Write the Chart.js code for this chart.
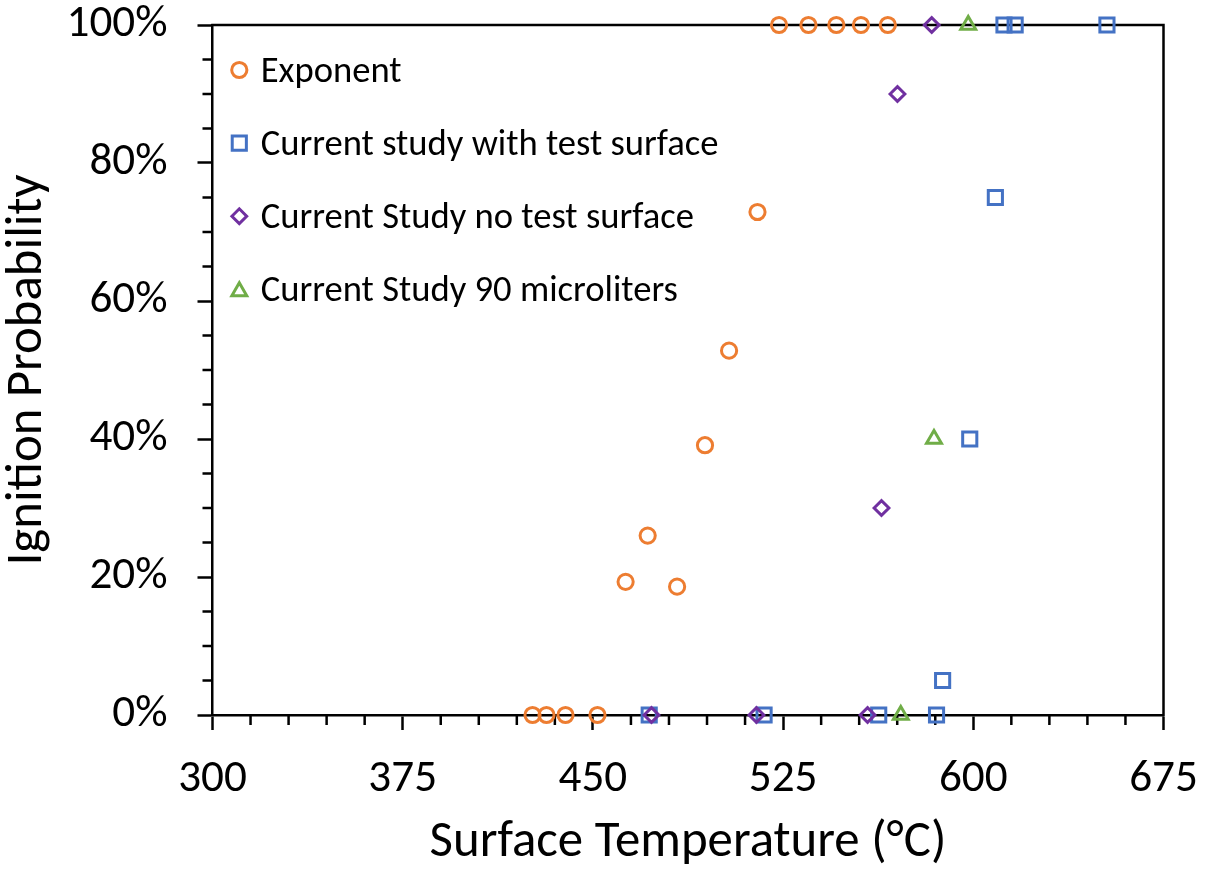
<!DOCTYPE html>
<html>
<head>
<meta charset="utf-8">
<title>Ignition Probability</title>
<script src="https://cdn.jsdelivr.net/npm/chart.js@4/dist/chart.umd.min.js"></script>
<style>
  html, body { margin: 0; padding: 0; background: #fff; }
  #chart { display: block; }
</style>
</head>
<body>
<canvas id="chart" width="1209" height="869"></canvas>
<script>
// Data (temperature in °C, probability in %)
const exponentTemp = [426.2, 431.7, 439.2, 451.8, 462.9, 471.6, 483.2, 494.2, 503.7, 514.9, 523.4, 535.0, 546.0, 555.7, 566.3];
const exponentProb = [0, 0, 0, 0, 19.3, 26.0, 18.6, 39.1, 52.8, 72.9, 100, 100, 100, 100, 100];

const withSurfaceTemp = [472.2, 517.5, 562.7, 585.5, 587.9, 598.6, 608.7, 612.1, 616.5, 652.7];
const withSurfaceProb = [0, 0, 0, 0, 5, 40, 75, 100, 100, 100];

const noSurfaceTemp = [473.1, 514.5, 558.3, 563.8, 570.1, 583.6];
const noSurfaceProb = [0, 0, 0, 30, 90, 100];

const microTemp = [571.4, 584.5, 598.0];
const microProb = [0, 40, 100];

const seriesNames = [
    'Exponent',
    'Current study with test surface',
    'Current Study no test surface',
    'Current Study 90 microliters'
];

const xMajorTicks = [300, 375, 450, 525, 600, 675];
const yMajorTicks = [0, 20, 40, 60, 80, 100];

const FAMILY = 'Carlito, Calibri, Lato, sans-serif';

// pick a font size so a text spans the width it has in the reference
function fitSize(text, width) {
    const c = document.createElement('canvas').getContext('2d');
    c.font = '100px ' + FAMILY;
    return 100 * width / c.measureText(text).width;
}

const tickSize = fitSize('100%', 101);
const legendSize = fitSize(seriesNames[1], 458);
const xTitleSize = fitSize('Surface Temperature (°C)', 517);
const yTitleSize = fitSize('Ignition Probability', 391);

function toPoints(xs, ys) {
    return xs.map((x, i) => ({ x: x, y: ys[i] }));
}

const markers = [
    { color: '#ED7D31', style: 'circle', radius: 7.6, width: 3 },
    { color: '#4472C4', style: 'rect', radius: 10, width: 3 },
    { color: '#7030A0', style: 'rectRot', radius: 7.4, width: 3 },
    { color: '#70AD47', style: 'triangle', radius: 8.6, width: 3 }
];
const seriesData = [
    toPoints(exponentTemp, exponentProb),
    toPoints(withSurfaceTemp, withSurfaceProb),
    toPoints(noSurfaceTemp, noSurfaceProb),
    toPoints(microTemp, microProb)
];

// Top/right frame plus the short minor tick marks
const framePlugin = {
    id: 'frame',
    beforeDatasetsDraw(chart) {
        const { ctx, chartArea: a, scales } = chart;
        ctx.save();
        ctx.strokeStyle = '#000';
        ctx.lineWidth = 2.5;
        ctx.beginPath();
        ctx.moveTo(a.left - 1.25, a.top);
        ctx.lineTo(a.right, a.top);
        ctx.lineTo(a.right, a.bottom + 1.25);
        scales.x.ticks.forEach(t => {
            if (!xMajorTicks.includes(t.value)) {
                const px = scales.x.getPixelForValue(t.value);
                ctx.moveTo(px, a.bottom);
                ctx.lineTo(px, a.bottom + 10);
            }
        });
        scales.y.ticks.forEach(t => {
            if (!yMajorTicks.includes(t.value)) {
                const py = scales.y.getPixelForValue(t.value);
                ctx.moveTo(a.left, py);
                ctx.lineTo(a.left - 10, py);
            }
        });
        ctx.stroke();
        ctx.restore();
    }
};

// Legend sits inside the plot, top-left, like the original
const legendPlugin = {
    id: 'insideLegend',
    afterDatasetsDraw(chart) {
        const { ctx, chartArea: a } = chart;
        ctx.save();
        ctx.font = legendSize + 'px ' + FAMILY;
        const capH = ctx.measureText('E').actualBoundingBoxAscent;
        chart.data.datasets.forEach((ds, i) => {
            const m = markers[i];
            const rowY = a.top + 45 + i * 73.1;
            const my = m.style === 'triangle' ? rowY + m.radius / 4 : rowY;
            ctx.lineWidth = m.width;
            ctx.strokeStyle = m.color;
            ctx.fillStyle = 'rgba(0,0,0,0)';
            Chart.helpers.drawPoint(ctx, { pointStyle: m.style, radius: m.radius, borderWidth: m.width, rotation: 0 }, a.left + 26.8, my);
            ctx.fillStyle = '#000';
            ctx.textBaseline = 'alphabetic';
            ctx.fillText(ds.label, a.left + 48.2, rowY + capH / 2);
        });
        ctx.restore();
    }
};

const chart = new Chart(document.getElementById('chart'), {
    type: 'scatter',
    data: {
        datasets: seriesData.map((pts, i) => ({
            label: seriesNames[i],
            data: pts,
            order: 4 - i,
            pointStyle: markers[i].style,
            pointRadius: markers[i].radius,
            pointHoverRadius: markers[i].radius,
            pointBorderWidth: markers[i].width,
            pointBorderColor: markers[i].color,
            pointBackgroundColor: 'rgba(0,0,0,0)',
            showLine: false,
            clip: false
        }))
    },
    options: {
        responsive: false,
        animation: false,
        devicePixelRatio: 1,
        layout: { padding: { top: 25, right: 45.5, bottom: 0, left: 0 } },
        plugins: {
            legend: { display: false },
            tooltip: { enabled: false }
        },
        scales: {
            x: {
                type: 'linear',
                min: 300,
                max: 675,
                afterFit: s => { s.height = 154; s.paddingLeft = 0; s.paddingRight = 0; },
                ticks: {
                    stepSize: 15,
                    autoSkip: false,
                    maxRotation: 0,
                    minRotation: 0,
                    padding: 27,
                    color: '#000',
                    font: { family: FAMILY, size: tickSize, lineHeight: 1 },
                    callback: v => xMajorTicks.includes(v) ? String(v) : ''
                },
                grid: {
                    drawOnChartArea: false,
                    drawTicks: true,
                    tickLength: 15,
                    tickWidth: 2.5,
                    tickColor: c => (c.tick && xMajorTicks.includes(c.tick.value)) ? '#000' : 'rgba(0,0,0,0)'
                },
                border: { display: true, color: '#000', width: 2.5 },
                title: {
                    display: true,
                    text: 'Surface Temperature (°C)',
                    color: '#000',
                    font: { family: FAMILY, size: xTitleSize, lineHeight: 1 },
                    padding: { top: 0, bottom: 0 }
                }
            },
            y: {
                type: 'linear',
                min: 0,
                max: 100,
                afterFit: s => { s.width = 212.5; s.paddingTop = 0; s.paddingBottom = 0; },
                ticks: {
                    stepSize: 5,
                    autoSkip: false,
                    padding: 30,
                    color: '#000',
                    font: { family: FAMILY, size: tickSize, lineHeight: 1 },
                    callback: v => yMajorTicks.includes(v) ? v + '%' : ''
                },
                grid: {
                    drawOnChartArea: false,
                    drawTicks: true,
                    tickLength: 15,
                    tickWidth: 2.5,
                    tickColor: c => (c.tick && yMajorTicks.includes(c.tick.value)) ? '#000' : 'rgba(0,0,0,0)'
                },
                border: { display: true, color: '#000', width: 2.5 },
                title: {
                    display: true,
                    text: 'Ignition Probability',
                    color: '#000',
                    font: { family: FAMILY, size: yTitleSize, lineHeight: 1 },
                    padding: { top: 3, bottom: 0 }
                }
            }
        }
    },
    plugins: [framePlugin, legendPlugin]
});
</script>
</body>
</html>
